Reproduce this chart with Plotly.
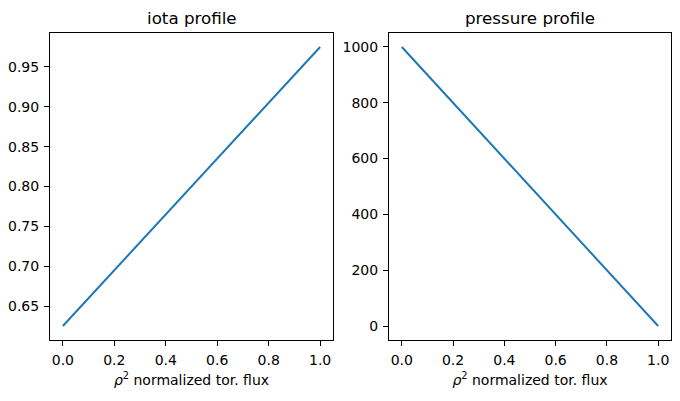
import plotly.graph_objects as go

rho2 = [0.0, 0.25, 0.5, 0.75, 1.0]
iota = [0.625, 0.7125, 0.8, 0.8875, 0.975]
pressure = [1000, 750, 500, 250, 0]
titles = ["iota profile", "pressure profile"]
xlabel = "<i>ρ</i><sup>2</sup> normalized tor. flux"

W, H = 680, 401
font = dict(family="DejaVu Sans", size=14, color="black")

fig = go.Figure()
fig.add_trace(go.Scatter(x=rho2, y=iota, mode="lines", line=dict(color="#1f77b4", width=2),
                         xaxis="x", yaxis="y", showlegend=False))
fig.add_trace(go.Scatter(x=rho2, y=pressure, mode="lines", line=dict(color="#1f77b4", width=2),
                         xaxis="x2", yaxis="y2", showlegend=False))

ytop = 1 - 33 / H
ybot = 1 - 340 / H
d1 = [50 / W, 333 / W]
d2 = [389 / W, 671 / W]

common = dict(showline=True, mirror=True, linecolor="black", linewidth=1, ticks="outside",
              ticklen=5, tickwidth=1, tickcolor="black", showgrid=False, zeroline=False,
              tickfont=font, ticklabelstandoff=2)

fig.update_layout(
    width=W, height=H, margin=dict(l=0, r=0, t=0, b=0),
    plot_bgcolor="white", paper_bgcolor="white", font=font,
    xaxis=dict(domain=d1, anchor="y", range=[-0.05, 1.05], dtick=0.2, tick0=0, tickformat=".1f",
               title=dict(text=xlabel, font=font, standoff=8), **common),
    yaxis=dict(domain=[ybot, ytop], anchor="x", range=[0.6075, 0.9925], dtick=0.05, tick0=0.65,
               tickformat=".2f", **common),
    xaxis2=dict(domain=d2, anchor="y2", range=[-0.05, 1.05], dtick=0.2, tick0=0, tickformat=".1f",
                title=dict(text=xlabel, font=font, standoff=8), **common),
    yaxis2=dict(domain=[ybot, ytop], anchor="x2", range=[-50, 1050], dtick=200, tick0=0, **common),
)

for t, d in zip(titles, [d1, d2]):
    fig.add_annotation(text=t, x=(d[0] + d[1]) / 2, y=ytop, xref="paper", yref="paper",
                       xanchor="center", yanchor="bottom", yshift=3, showarrow=False,
                       font=dict(family="DejaVu Sans", size=16.7, color="black"))

fig.write_html("out.html")
